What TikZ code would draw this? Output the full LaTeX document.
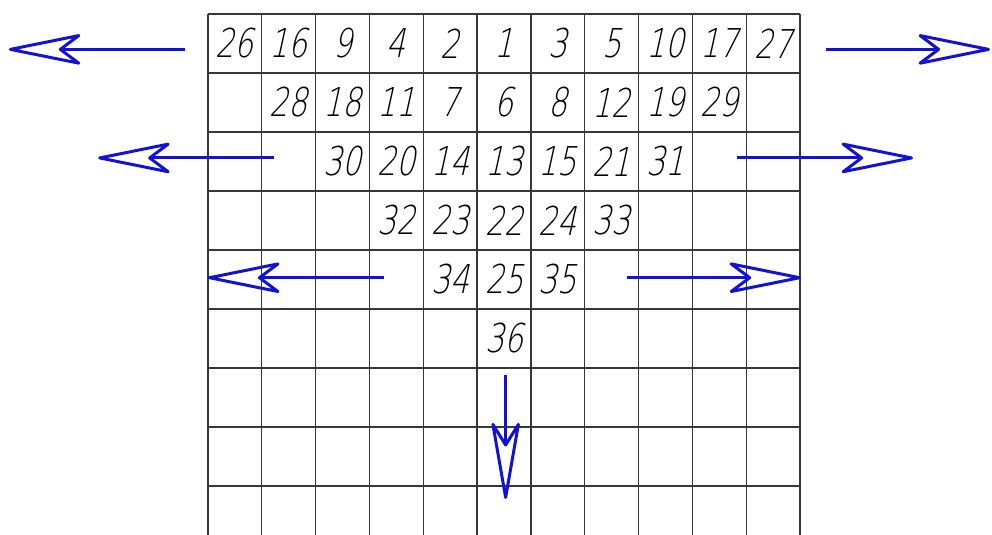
\documentclass[tikz,border=0pt]{standalone}
\usepackage{fontspec}
\usepackage{tikz}
\usetikzlibrary{arrows.meta}

\newfontfamily\gostfont[FakeSlant=0.22, FakeStretch=0.75]{DejaVu Sans ExtraLight}
\definecolor{arrowblue}{RGB}{18,18,215}
\definecolor{gridgray}{RGB}{55,55,55}

\begin{document}
\begin{tikzpicture}[
        x=1.0764cm, y=-1.18cm,
        gridline/.style={draw=gridgray, line width=0.7pt, xstep=1.0764cm, ystep=1.18cm},
        num/.style={inner sep=0pt, font=\gostfont\fontsize{22.6}{24}\selectfont},
        sidearrow/.style={draw=arrowblue, line width=1.7pt,
            -{Stealth[open, round, length=1.64cm, width=0.66cm, inset=0.44cm]}},
        downarrow/.style={draw=arrowblue, line width=1.7pt,
            -{Stealth[open, round, length=1.78cm, width=0.62cm, inset=0.5cm]}}
    ]
        \useasboundingbox (-3.865,-0.237) rectangle (14.567,8.831);

        % Grid
        \draw[gridline] (0,0) grid (11,8.831);

        % Row 1
        \node[num] (n26) at (0.5,0.5) {26};
        \node[num] (n16) at (1.5,0.5) {16};
        \node[num] (n9) at (2.5,0.5) {9};
        \node[num] (n4) at (3.5,0.5) {4};
        \node[num] (n2) at (4.5,0.5) {2};
        \node[num] (n1) at (5.5,0.5) {1};
        \node[num] (n3) at (6.5,0.5) {3};
        \node[num] (n5) at (7.5,0.5) {5};
        \node[num] (n10) at (8.5,0.5) {10};
        \node[num] (n17) at (9.5,0.5) {17};
        \node[num] (n27) at (10.5,0.5) {27};

        % Row 2
        \node[num] (n28) at (1.5,1.5) {28};
        \node[num] (n18) at (2.5,1.5) {18};
        \node[num] (n11) at (3.5,1.5) {11};
        \node[num] (n7) at (4.5,1.5) {7};
        \node[num] (n6) at (5.5,1.5) {6};
        \node[num] (n8) at (6.5,1.5) {8};
        \node[num] (n12) at (7.5,1.5) {12};
        \node[num] (n19) at (8.5,1.5) {19};
        \node[num] (n29) at (9.5,1.5) {29};

        % Row 3
        \node[num] (n30) at (2.5,2.5) {30};
        \node[num] (n20) at (3.5,2.5) {20};
        \node[num] (n14) at (4.5,2.5) {14};
        \node[num] (n13) at (5.5,2.5) {13};
        \node[num] (n15) at (6.5,2.5) {15};
        \node[num] (n21) at (7.5,2.5) {21};
        \node[num] (n31) at (8.5,2.5) {31};

        % Row 4
        \node[num] (n32) at (3.5,3.5) {32};
        \node[num] (n23) at (4.5,3.5) {23};
        \node[num] (n22) at (5.5,3.5) {22};
        \node[num] (n24) at (6.5,3.5) {24};
        \node[num] (n33) at (7.5,3.5) {33};

        % Rows 5 and 6
        \node[num] (n34) at (4.5,4.5) {34};
        \node[num] (n25) at (5.5,4.5) {25};
        \node[num] (n35) at (6.5,4.5) {35};
        \node[num] (n36) at (5.5,5.5) {36};

        % Arrow ends
        \coordinate (left1from) at (-0.43,0.6);
        \coordinate (left1to) at (-3.70,0.6);
        \coordinate (right1from) at (11.48,0.6);
        \coordinate (right1to) at (14.53,0.6);
        \coordinate (left2from) at (1.23,2.44);
        \coordinate (left2to) at (-2.04,2.44);
        \coordinate (right2from) at (9.83,2.44);
        \coordinate (right2to) at (13.10,2.44);
        \coordinate (left3from) at (3.27,4.47);
        \coordinate (left3to) at (0,4.47);
        \coordinate (right3from) at (7.79,4.47);
        \coordinate (right3to) at (11.02,4.47);
        \coordinate (downfrom) at (5.53,6.12);
        \coordinate (downto) at (5.53,8.22);

        % Arrows
        \draw[sidearrow] (left1from) -- (left1to);
        \draw[sidearrow] (right1from) -- (right1to);
        \draw[sidearrow] (left2from) -- (left2to);
        \draw[sidearrow] (right2from) -- (right2to);
        \draw[sidearrow] (left3from) -- (left3to);
        \draw[sidearrow] (right3from) -- (right3to);
        \draw[downarrow] (downfrom) -- (downto);

    \end{tikzpicture}
\end{document}
